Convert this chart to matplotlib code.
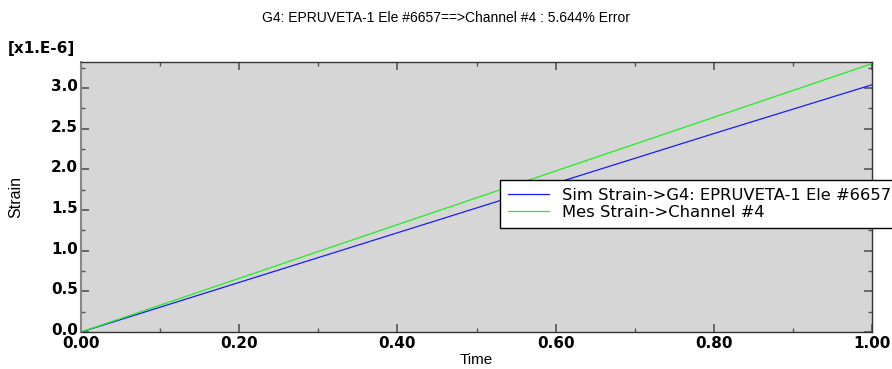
import matplotlib
matplotlib.use("Agg")
import matplotlib.pyplot as plt
import matplotlib.transforms as mtransforms
from matplotlib.ticker import MultipleLocator, FormatStrFormatter

time = [0.0, 0.2, 0.4, 0.6, 0.8, 1.0]
sim_strain = [0.0, 0.61, 1.22, 1.83, 2.44, 3.04]
mes_strain = [0.0, 0.66, 1.32, 1.98, 2.64, 3.30]

title = "G4: EPRUVETA-1 Ele #6657==>Channel #4 : 5.644% Error"
sim_label = "Sim Strain->G4: EPRUVETA-1 Ele #6657"
mes_label = "Mes Strain->Channel #4"

fig = plt.figure(figsize=(8.92, 3.69), dpi=100)
ax = fig.add_axes([81/892, 37/369, 791/892, 270/369])
ax.set_facecolor("#d6d6d6")

ax.plot(time, sim_strain, color="#1a1aff", lw=0.9, label=sim_label)
ax.plot(time, mes_strain, color="#22ee22", lw=0.9, label=mes_label)

ax.set_xlim(0, 1.0)
ax.set_ylim(0, 3.32)
ax.xaxis.set_major_locator(MultipleLocator(0.2))
ax.xaxis.set_minor_locator(MultipleLocator(0.1))
ax.yaxis.set_major_locator(MultipleLocator(0.5))
ax.yaxis.set_minor_locator(MultipleLocator(0.25))
ax.xaxis.set_major_formatter(FormatStrFormatter("%.2f"))
ax.yaxis.set_major_formatter(FormatStrFormatter("%.1f"))
ax.tick_params(which="both", direction="in", top=True, right=True, color="#555555")
ax.tick_params(which="major", length=6, width=1.2)
ax.tick_params(which="minor", length=3, width=1)
ax.tick_params(axis="both", labelsize=11)
ax.tick_params(axis="x", pad=3)
ax.tick_params(axis="y", pad=2)
for lab in ax.get_xticklabels() + ax.get_yticklabels():
    lab.set_fontweight("bold")
# nudge y tick labels slightly upward, as in the reference
offset = mtransforms.ScaledTranslation(0, 3/100, fig.dpi_scale_trans)
for lab in ax.get_yticklabels():
    lab.set_transform(lab.get_transform() + offset)
for s in ax.spines.values():
    s.set_color("#333333")
    s.set_linewidth(1)
ax.spines["left"].set_color("#888888")
ax.spines["left"].set_linewidth(1.5)

ax.set_xlabel("Time", fontsize=11, labelpad=1, family="Liberation Sans")
ax.set_ylabel("Strain", fontsize=11.5, labelpad=20, family="Liberation Sans")
fig.text(0.5, 1 - 18/369, title, ha="center", va="center", fontsize=10,
         family="Liberation Sans")
fig.text(8/892, 1 - 48/369, "[x1.E-6]", ha="left", va="center", fontsize=11,
         fontweight="bold")

leg = ax.legend(loc="upper left", bbox_to_anchor=(500/892, 1 - 180/369),
                bbox_transform=fig.transFigure, fancybox=False, framealpha=1,
                edgecolor="black", fontsize=11.8, borderpad=0.5, handlelength=2.5,
                handletextpad=0.8, labelspacing=0.12, borderaxespad=0)
leg.get_frame().set_linewidth(1)

fig.savefig("out.png", dpi=100)
